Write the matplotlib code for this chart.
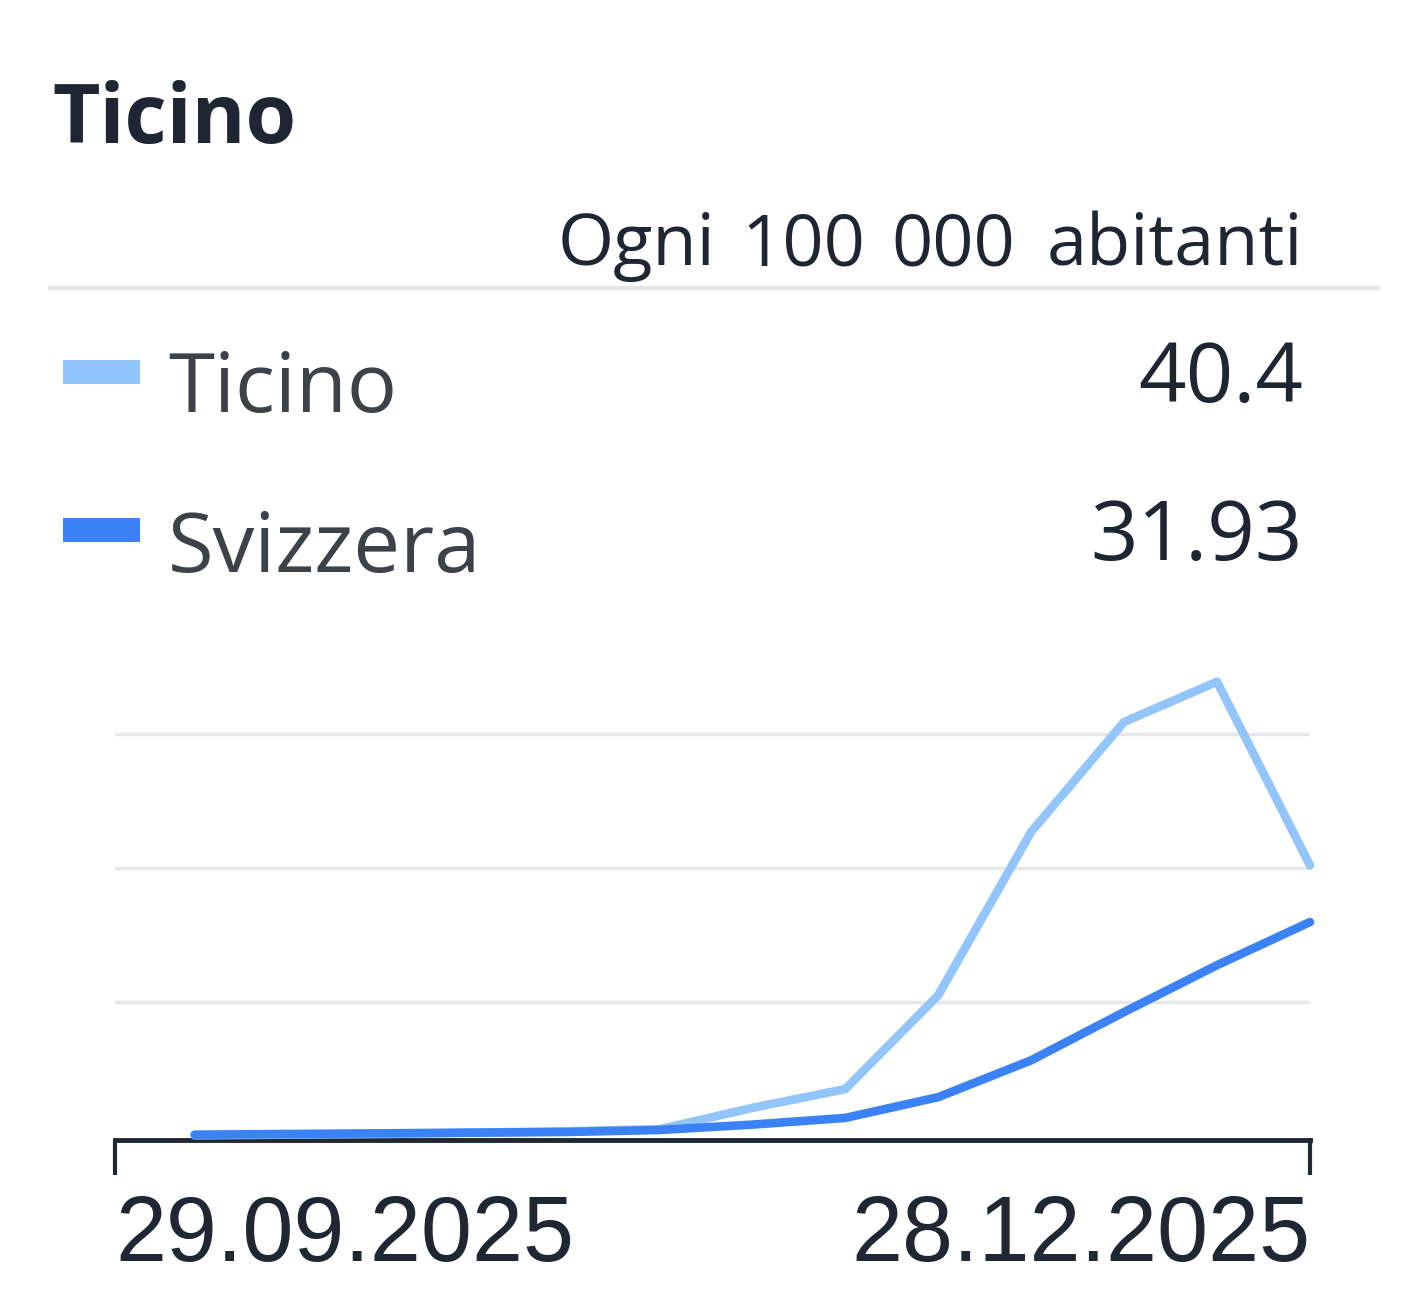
import matplotlib
matplotlib.use("Agg")
import matplotlib.pyplot as plt
from matplotlib.patches import Rectangle
from matplotlib.lines import Line2D
import pandas as pd

# dati settimanali (ogni 100 000 abitanti)
dates = ["2025-10-05", "2025-10-12", "2025-10-19", "2025-10-26", "2025-11-02",
         "2025-11-09", "2025-11-16", "2025-11-23", "2025-11-30", "2025-12-07",
         "2025-12-14", "2025-12-21", "2025-12-28"]
ticino = [0.1, 0.2, 0.3, 0.5, 0.7, 1.0, 4.2, 7.0, 21.0, 45.4, 61.8, 67.8, 40.4]
svizzera = [0.2, 0.3, 0.4, 0.5, 0.6, 0.9, 1.7, 2.7, 5.8, 11.3, 18.5, 25.5, 31.93]
series_names = ["Ticino", "Svizzera"]
last_values = ["40.4", "31.93"]
x_start, x_end = "2025-09-29", "2025-12-28"
tick_labels = ["29.09.2025", "28.12.2025"]
grid_vals = [20, 40, 60]
subtitle_words = ["Ogni", "100", "000", "abitanti"]

c_light = "#93c5fd"
c_dark = "#3b82f6"
c_title = "#1e2533"
c_text = "#3d4148"
c_axis = "#1f2733"

W, H = 1408, 1301
fig = plt.figure(figsize=(W / 100, H / 100), dpi=100)
fig.patch.set_facecolor("white")

def fy(px):
    return 1 - px / H

# area del grafico
x0, x1 = 115, 1310
y_zero, y_top = 1136, 1136 - 70 * 6.7
ax = fig.add_axes([x0 / W, 1 - y_zero / H, (x1 - x0) / W, (y_zero - y_top) / H])

d = pd.to_datetime(dates)
for g in grid_vals:
    ax.axhline(g, color="#e6e7ea", lw=2.5, zorder=1)
ax.plot(d, ticino, color=c_light, lw=6.2, solid_capstyle="round", zorder=3, clip_on=False)
ax.plot(d, svizzera, color=c_dark, lw=6.2, solid_capstyle="round", zorder=4, clip_on=False)

ax.set_xlim(pd.Timestamp(x_start), pd.Timestamp(x_end))
ax.set_ylim(0, 70)
for s in ["top", "right", "left"]:
    ax.spines[s].set_visible(False)
ax.spines["bottom"].set_color(c_axis)
ax.spines["bottom"].set_linewidth(3.5)
ax.spines["bottom"].set_zorder(2)
ax.spines["bottom"].set_position(("outward", 3))
ax.set_yticks([])
ax.set_xticks([pd.Timestamp(x_start), pd.Timestamp(x_end)])
ax.set_xticklabels(tick_labels, fontfamily="Liberation Sans", fontsize=66, color=c_axis)
ax.tick_params(axis="x", direction="out", length=25, width=3, color=c_axis, pad=14)
lbls = ax.get_xticklabels()
lbls[0].set_ha("left")
lbls[1].set_ha("right")

# titolo e sottotitolo (parole spaziate come nell'originale)
fig.text(52 / W, fy(143), "Ticino", fontfamily="Open Sans", fontweight="bold",
         fontsize=59, color=c_title, va="baseline", ha="left")
word_right = [715, 865, 1015, 1303]
for w, xr in zip(subtitle_words, word_right):
    fig.text(xr / W, fy(265), w, fontfamily="Open Sans", fontsize=52,
             color=c_title, va="baseline", ha="right")
fig.add_artist(Line2D([50 / W, 1378 / W], [fy(288), fy(288)], color="#e3e4e6", lw=3))

# legenda con ultimi valori
colors = [c_light, c_dark]
swatch_y = [360, 518]
label_base = [412, 572]
value_base = [402, 560]
for name, val, col, sy, lb, vb in zip(series_names, last_values, colors, swatch_y, label_base, value_base):
    fig.add_artist(Rectangle((63 / W, fy(sy + 24)), 77 / W, 24 / H, color=col, lw=0))
    fig.text(168 / W, fy(lb), name, fontfamily="Open Sans", fontsize=60,
             color=c_text, va="baseline", ha="left")
    fig.text(1303 / W, fy(vb), val, fontfamily="Open Sans", fontsize=60,
             color=c_title, va="baseline", ha="right")

fig.savefig("out.png", dpi=100)
